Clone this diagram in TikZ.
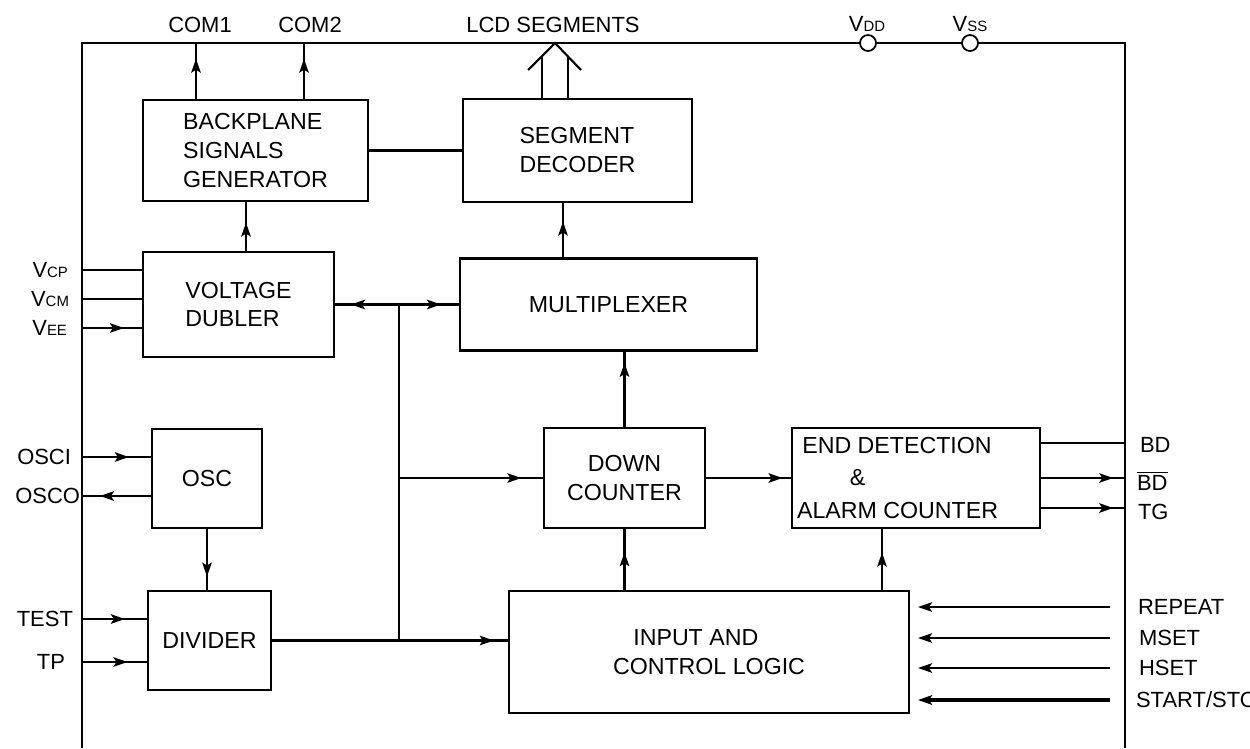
\documentclass[tikz,border=0pt]{standalone}
\usepackage{fontspec}
\setmainfont{Liberation Sans}
\usetikzlibrary{arrows.meta, decorations.markings}

\newcommand{\blockfont}{\fontsize{13.2}{16.5}\selectfont}
\newcommand{\detfont}{\fontsize{13.2}{18.5}\selectfont}
\newcommand{\pinfont}{\fontsize{12.5}{15}\selectfont}
\newcommand{\vsub}[1]{{\fontsize{8.5}{9}\selectfont #1}}

\tikzset{
	block/.style={draw, line width=1.2pt, inner sep=0pt, font=\blockfont},
	mid/.style={postaction={decorate},
		decoration={markings, mark=at position #1 with {\arrow{>}}}},
	pin/.style={draw, circle, fill=white, minimum size=0.32cm, inner sep=0pt, line width=1pt},
	lbl/.style={font=\pinfont, inner sep=0pt}
}

\begin{document}
\begin{tikzpicture}[x=0.02cm, y=-0.02cm,
				>={Stealth[length=2.8mm, width=1.9mm, inset=0.6mm]},
				line width=1.2pt]
				\useasboundingbox (0,0) rectangle (1250,748);
				% outer frame with supply pins
				\draw (82,748) -- (82,43) -- (1125,43) -- (1125,748);
				\node[pin] (vdd) at (868,43) {};
				\node[pin] (vss) at (970,43) {};
				\node[lbl] (vddl) at (867,24) {V\vsub{DD}};
				\node[lbl] (vssl) at (970,24) {V\vsub{SS}};
				% blocks
				\node[block, minimum width=4.5cm, minimum height=2.02cm, align=left] (bsg) at (255.5,150.5) {BACKPLANE\\SIGNALS\\GENERATOR};
				\node[block, minimum width=4.58cm, minimum height=2.06cm, align=left] (seg) at (577.5,150.5) {SEGMENT\\DECODER};
				\node[block, minimum width=3.82cm, minimum height=2.1cm, align=left] (vd) at (238.5,304.5) {VOLTAGE\\DUBLER};
				\node[block, minimum width=5.94cm, minimum height=1.84cm] (mux) at (608.5,304.5) {MULTIPLEXER};
				\node[block, minimum width=2.2cm, minimum height=1.98cm] (osc) at (207,478.5) {OSC};
				\node[block, minimum width=2.46cm, minimum height=1.98cm] (div) at (209.5,640.5) {DIVIDER};
				\node[block, minimum width=3.22cm, minimum height=2cm, align=center] (dc) at (624.5,478) {DOWN\\COUNTER};
				\node[block, minimum width=4.96cm, minimum height=2cm, align=left, font=\detfont] (edc) at (916,478) {\hspace*{3pt}END DETECTION\\\hspace*{30pt}\&\\ALARM COUNTER\hspace*{21pt}};
				\node[block, minimum width=8cm, minimum height=2.44cm, align=center] (icl) at (709,652) {INPUT AND\hspace*{15pt}\\CONTROL LOGIC};
				% top outputs
				\node[lbl] (com1) at (200,25) {COM1};
				\node[lbl] (com2) at (310,25) {COM2};
				\node[lbl] (lcd) at (553,25) {LCD SEGMENTS};
				\coordinate (c1) at (196,43);
				\coordinate (c2) at (304,43);
				\draw[mid=0.72] (c1 |- bsg.north) -- (c1);
				\draw[mid=0.72] (c2 |- bsg.north) -- (c2);
				\draw (542,99) -- (542,56) (568,99) -- (568,56);
				\draw (528,70) -- (555,43) -- (581,70);
				% inner connections
				\draw[line width=1.8pt] (bsg.east) -- (seg.west);
				\coordinate (v1) at ([xshift=0.15cm]vd.north);
				\draw[mid=0.58] (v1) -- (v1 |- bsg.south);
				\coordinate (m1) at ([xshift=-0.91cm]mux.north);
				\draw[mid=0.66] (m1) -- (m1 |- seg.south);
				\draw[mid=0.85] (dc.north) -- (dc.north |- mux.south);
				\draw[mid=0.78] (osc.south) -- (osc.south |- div.north);
				\draw[mid=0.9] (dc.east) -- (edc.west);
				\draw[mid=0.62] (dc.south |- icl.north) -- (dc.south);
				\coordinate (e1) at (882,591);
				\draw[mid=0.62] (e1) -- (e1 |- edc.south);
				% clock bus
				\coordinate (bt) at (399,304.5);
				\coordinate (bm) at (399,478);
				\coordinate (bb) at (399,640.5);
				\draw[line width=1.8pt] (div.east) -- (bb);
				\draw[mid=0.87] (bb) -- (bb -| icl.west);
				\draw (bb) -- (bt);
				\draw[mid=0.75] (bt) -- (vd.east);
				\draw[mid=0.7] (bt) -- (mux.west);
				\draw[mid=0.85] (bm) -- (dc.west);
				% left pins
				\coordinate (vcp) at (82,270);
				\coordinate (vcm) at (82,299);
				\coordinate (vee) at (82,328);
				\coordinate (osci) at (82,457);
				\coordinate (osco) at (82,496);
				\coordinate (test) at (82,619);
				\coordinate (tp) at (82,662);
				\draw (vcp) -- (vcp -| vd.west);
				\draw (vcm) -- (vcm -| vd.west);
				\draw[mid=0.7] (vee) -- (vee -| vd.west);
				\draw[mid=0.68] (osci) -- (osci -| osc.west);
				\draw[mid=0.74] (osco -| osc.west) -- (osco);
				\draw[mid=0.66] (test) -- (test -| div.west);
				\draw[mid=0.7] (tp) -- (tp -| div.west);
				\node[lbl, anchor=east] (vcpl) at (69,270) {V\vsub{CP}};
				\node[lbl, anchor=east] (vcml) at (70,299) {V\vsub{CM}};
				\node[lbl, anchor=east] (veel) at (68,328) {V\vsub{EE}};
				\node[lbl, anchor=east] (oscil) at (72,457) {OSCI};
				\node[lbl, anchor=east] (oscol) at (81,496) {OSCO};
				\node[lbl, anchor=east] (testl) at (74,619) {TEST};
				\node[lbl, anchor=east] (tpl) at (66,662) {TP};
				% right pins
				\coordinate (bd) at (1125,443);
				\coordinate (bdn) at (1125,478);
				\coordinate (tg) at (1125,508);
				\draw (bd -| edc.east) -- (bd);
				\draw[mid=0.86] (edc.east) -- (bdn);
				\draw[mid=0.86] (tg -| edc.east) -- (tg);
				\node[lbl, anchor=west] (bdl) at (1139,445) {BD};
				\node[lbl, anchor=west] (bdnl) at (1136,481) {$\overline{\mbox{BD}}$};
				\node[lbl, anchor=west] (tgl) at (1137,512) {TG};
				\coordinate (rep) at (1125,607);
				\coordinate (mset) at (1125,638);
				\coordinate (hset) at (1125,668);
				\coordinate (sst) at (1125,700);
				\draw[->, shorten <=0.3cm, shorten >=0.16cm] (rep) -- (rep -| icl.east);
				\draw[->, shorten <=0.3cm, shorten >=0.16cm] (mset) -- (mset -| icl.east);
				\draw[->, shorten <=0.3cm, shorten >=0.16cm] (hset) -- (hset -| icl.east);
				\draw[->, line width=2pt, shorten <=0.3cm, shorten >=0.16cm] (sst) -- (sst -| icl.east);
				\node[lbl, anchor=west] (repl) at (1137,607) {REPEAT};
				\node[lbl, anchor=west] (msetl) at (1138,638) {MSET};
				\node[lbl, anchor=west] (hsetl) at (1138,668) {HSET};
				\node[lbl, anchor=west] (sstl) at (1135,700) {START/STOP};
			\end{tikzpicture}
\end{document}
